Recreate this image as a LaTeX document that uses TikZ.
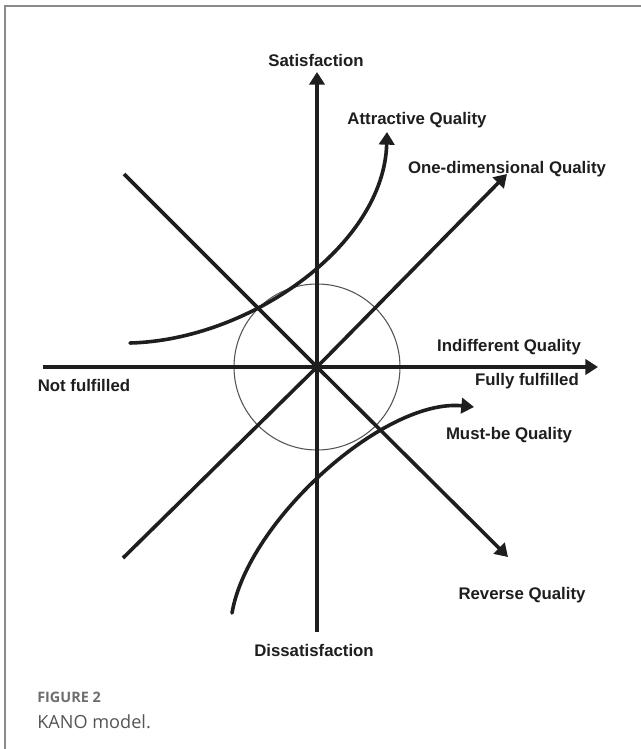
\documentclass[tikz,border=0pt]{standalone}
\usepackage{fontspec}
\setmainfont{Liberation Sans}
\newfontfamily\capfont{Open Sans}
\usetikzlibrary{arrows.meta}
\definecolor{ink}{HTML}{1E1E1E}
\definecolor{framegrey}{HTML}{8A8A8A}
\definecolor{capgrey}{HTML}{6E6E6E}
\definecolor{capdark}{HTML}{555555}
\tikzset{
  axisline/.style={line width=2.7pt, draw=ink, line cap=butt},
  arrowline/.style={axisline, -{Triangle[length=9.5pt,width=11.5pt]}},
  curveline/.style={line width=2.7pt, draw=ink, line cap=round},
  lbl/.style={inner sep=0pt, text=ink, font=\fontsize{12.6}{15}\selectfont\bfseries},
  caphead/.style={inner sep=0pt, anchor=west, text=capgrey, font=\capfont\fontsize{10.8}{13}\selectfont\bfseries},
  capbody/.style={inner sep=0pt, anchor=west, text=capdark, font=\capfont\fontsize{13.6}{16}\selectfont},
}
\begin{document}
\begin{tikzpicture}[x=0.75pt,y=-0.75pt]
\useasboundingbox (0,0) rectangle (641,749);
\fill[white] (0,0) rectangle (641,749);
% frame (top and left edges)
\draw[framegrey, line width=1.4pt] (5,749) -- (5,6) -- (641,6);

% key points
\coordinate (O) at (317,367);
\coordinate (top) at (317,72);
\coordinate (bot) at (317,632);
\coordinate (left) at (43,367);
\coordinate (right) at (598,367);
\coordinate (nw) at (124,174);
\coordinate (se) at (508,557);
\coordinate (sw) at (123,558);
\coordinate (ne) at (507,174);
\coordinate (aStart) at (130,343);
\coordinate (aEnd) at (387,132);
\coordinate (mStart) at (232,613);
\coordinate (mEnd) at (474,407);

% indifferent circle
\draw[capdark, line width=0.8pt] (O) circle[radius=83];

% axes
\draw[axisline] (bot) -- (O);
\draw[arrowline] (O) -- (top);
\draw[axisline] (left) -- (O);
\draw[arrowline] (O) -- (right);
% diagonals
\draw[axisline] (nw) -- (O);
\draw[arrowline] (O) -- (se);
\draw[axisline] (sw) -- (O);
\draw[arrowline] (O) -- (ne);

% attractive quality curve
\draw[curveline, -{Triangle[length=9.5pt,width=11.5pt]}] (aStart) .. controls (250,340) and (384,245) .. (aEnd);
% must-be quality curve
\draw[curveline, -{Triangle[length=9.5pt,width=11.5pt]}] (mStart) .. controls (248,520) and (385,398) .. (mEnd);

% labels
\node[lbl] (satis) at (316,60) {Satisfaction};
\node[lbl] (dissat) at (314,650) {Dissatisfaction};
\node[lbl] (attr) at (417,120) {Attractive Quality};
\node[lbl] (onedim) at (507,169) {One-dimensional Quality};
\node[lbl] (indiff) at (509,347) {Indifferent Quality};
\node[lbl] (fully) at (527,381) {Fully fulfilled};
\node[lbl] (notf) at (84,385) {Not fulfilled};
\node[lbl] (must) at (509,435) {Must-be Quality};
\node[lbl] (rev) at (522,595) {Reverse Quality};

% caption
\node[caphead] (fig) at (37,697) {FIGURE 2};
\node[capbody] (capt) at (37,722) {KANO model.};
\end{tikzpicture}
\end{document}
